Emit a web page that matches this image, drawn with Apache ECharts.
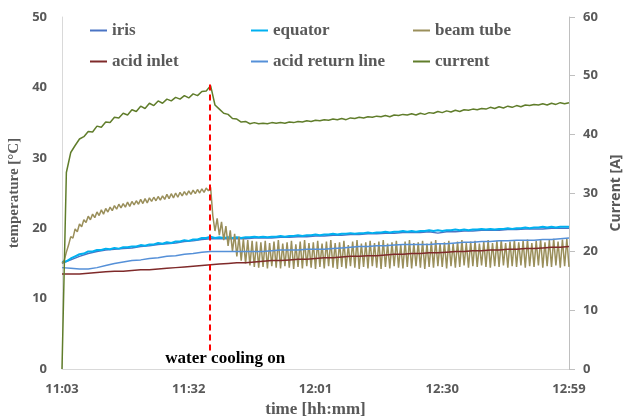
<!DOCTYPE html>
<html>
<head>
<meta charset="UTF-8">
<title>temperature and current</title>
<script src="https://cdn.jsdelivr.net/npm/echarts@6/dist/echarts.min.js"></script>
<style>
  html, body { margin: 0; padding: 0; background: #fff; }
  #chart { width: 627px; height: 418px; }
</style>
</head>
<body>
<div id="chart"></div>
<script>
// minutes after 11:03
let startHour = 11, startMin = 3;
let coolingTime = 33.7;   // water cooling switched on
let xTicks = [0, 29, 58, 87, 116];

// sampled every 1 min
let currentA = [0, 33.5, 36.9, 38.1, 39.2, 39.6, 40.5, 40.4, 41.4, 41.2, 42.1, 42.0, 42.9, 42.8, 43.6, 43.3, 44.2, 43.9, 44.8, 44.4,
  45.3, 44.9, 45.7, 45.3, 46.0, 45.7, 46.3, 46.0, 46.6, 46.2, 46.9, 46.6, 47.3, 47.4, 48.3, 45.0, 44.3, 43.6, 43.4, 42.7,
  42.6, 42.1, 42.2, 41.8, 42.0, 41.8, 41.9, 41.8, 42.0, 41.9, 42.0, 41.9, 42.1, 42.0, 42.2, 42.1, 42.3, 42.2, 42.4, 42.3,
  42.5, 42.4, 42.6, 42.5, 42.7, 42.5, 42.8, 42.7, 42.9, 42.8, 43.0, 42.9, 43.1, 43.0, 43.2, 43.0, 43.3, 43.2, 43.4, 43.3,
  43.5, 43.3, 43.6, 43.4, 43.7, 43.6, 43.9, 43.7, 44.0, 43.8, 44.1, 43.9, 44.2, 44.1, 44.3, 44.2, 44.4, 44.3, 44.6, 44.4,
  44.7, 44.5, 44.8, 44.6, 44.9, 44.7, 45.0, 44.9, 45.1, 45.0, 45.2, 45.0, 45.3, 45.1, 45.4, 45.2, 45.4];

let equator = [15.2, 15.3, 15.7, 16.0, 16.3, 16.4, 16.7, 16.7, 16.9, 16.9, 17.1, 17.0, 17.2, 17.1, 17.3, 17.3, 17.4, 17.4, 17.6, 17.5,
  17.7, 17.7, 17.9, 17.8, 18.0, 17.9, 18.1, 18.1, 18.3, 18.2, 18.4, 18.4, 18.6, 18.6, 18.8, 18.6, 18.7, 18.6, 18.7, 18.6,
  18.7, 18.6, 18.7, 18.7, 18.8, 18.7, 18.8, 18.7, 18.8, 18.8, 18.9, 18.8, 18.9, 18.9, 19.0, 18.9, 19.0, 19.0, 19.1, 19.0,
  19.1, 19.1, 19.2, 19.1, 19.2, 19.2, 19.3, 19.2, 19.3, 19.3, 19.4, 19.3, 19.4, 19.4, 19.5, 19.4, 19.5, 19.5, 19.6, 19.5,
  19.6, 19.5, 19.6, 19.6, 19.7, 19.6, 19.7, 19.6, 19.7, 19.7, 19.8, 19.7, 19.8, 19.7, 19.8, 19.8, 19.9, 19.8, 19.9, 19.8,
  19.9, 19.9, 20.0, 19.9, 20.0, 20.0, 20.1, 20.0, 20.1, 20.1, 20.2, 20.1, 20.2, 20.1, 20.2, 20.2, 20.2];

// sampled every 2 min
let iris = [15.0, 15.5, 16.0, 16.4, 16.7, 16.9, 17.0, 17.1, 17.2, 17.4, 17.5, 17.7, 17.8, 17.9, 18.1, 18.2, 18.4, 18.5, 18.5, 18.5,
  18.5, 18.5, 18.6, 18.6, 18.6, 18.7, 18.7, 18.8, 18.8, 18.9, 18.9, 19.0, 19.0, 19.1, 19.1, 19.2, 19.2, 19.3, 19.3, 19.4,
  19.4, 19.4, 19.5, 19.3, 19.5, 19.5, 19.6, 19.6, 19.7, 19.7, 19.7, 19.8, 19.8, 19.9, 19.9, 19.9, 20.0, 20.0, 20.0];

let acidReturn = [14.4, 14.3, 14.2, 14.2, 14.4, 14.7, 15.0, 15.2, 15.4, 15.5, 15.7, 15.8, 16.0, 16.1, 16.3, 16.4, 16.6, 16.7, 16.7, 16.7,
  16.7, 16.7, 16.7, 16.7, 16.8, 16.9, 16.9, 16.9, 17.0, 17.0, 17.0, 17.1, 17.2, 17.3, 17.4, 17.4, 17.5, 17.5, 17.6, 17.7,
  17.7, 17.7, 17.7, 17.8, 17.8, 17.9, 18.0, 18.0, 18.1, 18.1, 18.2, 18.2, 18.3, 18.3, 18.3, 18.4, 18.4, 18.5, 18.6];

let acidInlet = [13.5, 13.5, 13.5, 13.6, 13.7, 13.8, 13.9, 13.9, 14.0, 14.1, 14.1, 14.2, 14.3, 14.4, 14.5, 14.6, 14.7, 14.8, 14.9, 15.0,
  15.1, 15.1, 15.2, 15.3, 15.4, 15.4, 15.5, 15.6, 15.6, 15.7, 15.8, 15.8, 15.9, 16.0, 16.0, 16.1, 16.1, 16.2, 16.3, 16.3,
  16.4, 16.4, 16.5, 16.5, 16.6, 16.7, 16.7, 16.8, 16.8, 16.9, 16.9, 17.0, 17.0, 17.1, 17.1, 17.2, 17.3, 17.3, 17.4];

// sampled every 0.5 min
let beamTube = [15.0, 15.4, 16.6, 17.6, 18.8, 18.6, 19.9, 19.5, 20.6, 20.2, 21.2, 20.8, 21.7, 21.2, 22.0, 21.5, 22.3, 21.8, 22.6, 22.0,
  22.8, 22.3, 23.0, 22.5, 23.2, 22.7, 23.4, 22.9, 23.5, 23.0, 23.7, 23.1, 23.8, 23.3, 23.9, 23.4, 24.1, 23.5, 24.2, 23.6,
  24.3, 23.8, 24.4, 23.9, 24.5, 24.0, 24.6, 24.1, 24.8, 24.2, 24.9, 24.3, 25.0, 24.4, 25.1, 24.6, 25.2, 24.7, 25.3, 24.8,
  25.4, 24.9, 25.5, 25.0, 25.6, 25.1, 25.7, 25.3, 25.8,
  21.8, 19.6, 21.4, 19.0, 20.9, 18.3, 20.3, 17.5, 19.7, 16.7, 19.2, 16.0, 18.8, 15.4, 18.5, 15.0, 18.3, 14.7, 18.2, 14.5, 18.1, 14.4,
  18.0, 14.5, 18.2, 14.3, 17.9, 14.6, 18.1, 14.4, 18.3, 14.3, 17.8, 14.6, 18.0, 14.4, 18.2, 14.2, 17.7, 14.5, 18.1, 14.3,
  18.3, 14.6, 17.9, 14.4, 18.0, 14.2, 18.2, 14.5, 17.8, 14.3, 18.1, 14.6, 18.3, 14.4, 17.9, 14.2, 18.0, 14.5, 18.2, 14.3,
  17.6, 14.6, 18.1, 14.4, 18.3, 14.2, 17.8, 14.5, 18.0, 14.3, 18.2, 14.6, 17.9, 14.4, 18.1, 14.2, 18.3, 14.5, 17.8, 14.3,
  18.0, 14.6, 18.2, 14.4, 17.7, 14.3, 18.1, 14.5, 18.3, 14.3, 17.9, 14.6, 18.0, 14.4, 18.2, 14.2, 17.8, 14.5, 18.1, 14.4,
  18.3, 14.6, 17.9, 14.5, 18.0, 14.3, 18.2, 14.6, 17.8, 14.4, 18.1, 14.5, 18.3, 14.7, 17.9, 14.4, 18.1, 14.6, 18.2, 14.5,
  17.8, 14.7, 18.1, 14.5, 18.3, 14.4, 17.9, 14.6, 18.2, 14.5, 18.3, 14.7, 17.9, 14.4, 18.1, 14.6, 18.3, 14.5, 18.0, 14.7,
  18.2, 14.4, 18.4, 14.6, 17.9, 14.5, 18.2, 14.7, 18.4, 14.4, 18.0, 14.6, 18.3, 14.5, 18.5, 14.7, 18.1, 14.4, 18.4, 14.6,
  18.5, 14.5];

function sampled(values, step) {
  return values.map((v, i) => [i * step, v]);
}

function hhmm(m) {
  let total = startHour * 60 + startMin + Math.round(m);
  let h = Math.floor(total / 60), mm = total % 60;
  return h + ':' + (mm < 10 ? '0' : '') + mm;
}

let grey = '#595959';
let serif = 'Liberation Serif';
let sans = 'Open Sans';

let legendText = { fontFamily: serif, fontWeight: 'bold', fontSize: 17, color: grey };
function legendCol(left, names) {
  return {
    orient: 'vertical', left: left, top: 22, padding: 0, itemGap: 14,
    icon: 'rect', itemWidth: 17, itemHeight: 2,
    textStyle: legendText, data: names
  };
}

let chart = echarts.init(document.getElementById('chart'));
let option = {
  animation: false,
  color: ['#4A74C4', '#00B0F0', '#9A8F5B', '#7F2A2A', '#5590D8', '#607D2B'],
  grid: { left: 62, right: 58, top: 17, bottom: 49, outerBoundsMode: 'none' },
  legend: [
    legendCol(90, ['iris', 'acid inlet']),
    legendCol(251, ['equator', 'acid return line']),
    legendCol(413, ['beam tube', 'current'])
  ],
  xAxis: {
    type: 'value', min: 0, max: 116, interval: 29,
    name: 'time [hh:mm]', nameLocation: 'middle', nameGap: 31,
    nameTextStyle: { fontFamily: serif, fontWeight: 'bold', fontSize: 17, color: grey },
    axisLine: { lineStyle: { color: '#D9D9D9', width: 1 } },
    axisTick: { show: false },
    splitLine: { show: false },
    axisLabel: { formatter: hhmm, margin: 14, fontFamily: sans, fontWeight: 'bold', fontSize: 13, color: grey }
  },
  yAxis: [
    {
      type: 'value', min: 0, max: 50, interval: 10,
      name: 'temperature [°C]', nameLocation: 'middle', nameGap: 40,
      nameTextStyle: { fontFamily: serif, fontWeight: 'bold', fontSize: 15, color: grey },
      axisLine: { show: true, lineStyle: { color: '#D9D9D9', width: 1 } },
      axisTick: { show: false },
      splitLine: { show: false },
      axisLabel: { margin: 15, fontFamily: sans, fontWeight: 'bold', fontSize: 13, color: grey }
    },
    {
      type: 'value', min: 0, max: 60, interval: 10, position: 'right',
      name: 'Current [A]', nameLocation: 'middle', nameGap: 38, nameRotate: 90,
      nameTextStyle: { fontFamily: sans, fontWeight: 'bold', fontSize: 14, color: grey },
      axisLine: { show: true, lineStyle: { color: '#BFBFBF', width: 1 } },
      axisTick: { show: true, length: 6, lineStyle: { color: '#BFBFBF' } },
      splitLine: { show: false },
      axisLabel: { margin: 14, fontFamily: sans, fontWeight: 'bold', fontSize: 13, color: grey }
    }
  ],
  series: [
    { name: 'iris', type: 'line', showSymbol: false, lineStyle: { width: 1.5 }, data: sampled(iris, 2) },
    { name: 'equator', type: 'line', showSymbol: false, lineStyle: { width: 2 }, data: sampled(equator, 1) },
    {
      name: 'beam tube', type: 'line', showSymbol: false, lineStyle: { width: 1.5 }, data: sampled(beamTube, 0.5),
      markLine: {
        silent: true, symbol: ['none', 'none'], label: { show: false },
        lineStyle: { color: '#FF0000', width: 2, type: [6, 4] },
        data: [[{ coord: [coolingTime, 40.4] }, { coord: [coolingTime, 2.4] }]]
      }
    },
    { name: 'acid inlet', type: 'line', showSymbol: false, lineStyle: { width: 1.5 }, data: sampled(acidInlet, 2) },
    { name: 'acid return line', type: 'line', showSymbol: false, lineStyle: { width: 1.5 }, data: sampled(acidReturn, 2) },
    { name: 'current', type: 'line', yAxisIndex: 1, showSymbol: false, lineStyle: { width: 1.5 }, data: sampled(currentA, 1) }
  ]
};
chart.setOption(option);

// annotation under the cooling marker
let p = chart.convertToPixel({ xAxisIndex: 0, yAxisIndex: 0 }, [coolingTime, 0]);
chart.setOption({
  graphic: [{
    type: 'text', x: p[0] + 16, y: p[1] - 10,
    style: {
      text: 'water cooling on', align: 'center', verticalAlign: 'middle',
      font: 'bold 17px "Liberation Serif"', fill: '#000'
    }
  }]
});
</script>
</body>
</html>
